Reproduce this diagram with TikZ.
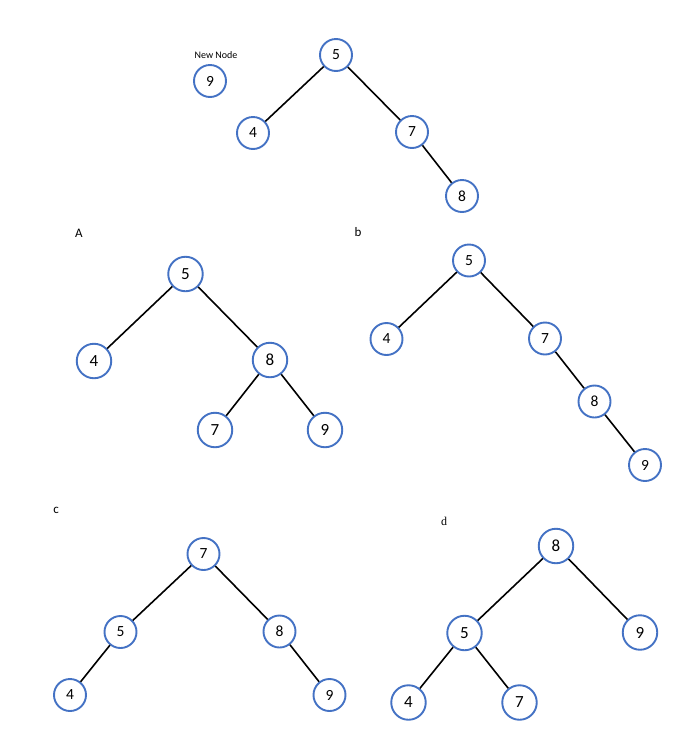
\documentclass[tikz,border=0pt]{standalone}
\usepackage{fontspec}
\setmainfont{Carlito}
\newfontfamily\serifd{Liberation Serif}
\definecolor{nodeblue}{HTML}{4472C4}
\tikzset{
  tn/.style={circle, draw=nodeblue, line width=1.9pt, fill=white, minimum size=32pt, inner sep=0pt, font=\fontsize{15.5}{15.5}\selectfont},
  tnb/.style={tn, minimum size=34.5pt, font=\fontsize{17}{17}\selectfont},
  edge/.style={line width=1.6pt, black},
  lab/.style={font=\fontsize{13}{13}\selectfont, inner sep=0pt}
}
\begin{document}
\begin{tikzpicture}[x=1pt,y=-1pt]
\useasboundingbox (0,0) rectangle (680,745);
% top
\node[inner sep=0pt, font=\fontsize{10}{10}\selectfont] (newlab) at (216,55) {New Node};
\node[tn] (n9) at (210,81) {9};
\node[tn] (t5) at (336,55) {5};
\node[tn] (t4) at (253,133) {4};
\node[tn] (t7) at (412,132) {7};
\node[tn] (t8) at (462,196) {8};
\draw[edge] (t5) -- (t4);
\draw[edge] (t5) -- (t7);
\draw[edge] (t7) -- (t8);
% A
\node[lab] (labA) at (79,233) {A};
\node[tnb] (a5) at (185.5,274) {5};
\node[tnb] (a4) at (94,361) {4};
\node[tnb] (a8) at (270,360) {8};
\node[tnb] (a7) at (215,430) {7};
\node[tnb] (a9) at (325,430) {9};
\draw[edge] (a5) -- (a4);
\draw[edge] (a5) -- (a8);
\draw[edge] (a8) -- (a7);
\draw[edge] (a8) -- (a9);
% b
\node[lab] (labb) at (358,232) {b};
\node[tn] (b5) at (469,260.5) {5};
\node[tn] (b4) at (386.5,339) {4};
\node[tn] (b7) at (545,338.5) {7};
\node[tn] (b8) at (594.5,401.5) {8};
\node[tn] (b9) at (645,465) {9};
\draw[edge] (b5) -- (b4);
\draw[edge] (b5) -- (b7);
\draw[edge] (b7) -- (b8);
\draw[edge] (b8) -- (b9);
% c
\node[lab] (labc) at (56,510) {c};
\node[tn] (c7) at (203.5,554) {7};
\node[tn] (c5) at (120.5,632) {5};
\node[tn] (c8) at (279.5,631.5) {8};
\node[tn] (c4) at (70,695) {4};
\node[tn] (c9) at (329.5,695) {9};
\draw[edge] (c7) -- (c5);
\draw[edge] (c7) -- (c8);
\draw[edge] (c5) -- (c4);
\draw[edge] (c8) -- (c9);
% d
\node[inner sep=0pt, font=\serifd\fontsize{12}{12}\selectfont] (labd) at (444,521) {d};
\node[tnb] (d8) at (556,546) {8};
\node[tnb] (d5) at (464.5,633) {5};
\node[tnb] (d9) at (640,632.5) {9};
\node[tnb] (d4) at (408.5,702.5) {4};
\node[tnb] (d7) at (519.5,702.5) {7};
\draw[edge] (d8) -- (d5);
\draw[edge] (d8) -- (d9);
\draw[edge] (d5) -- (d4);
\draw[edge] (d5) -- (d7);
\end{tikzpicture}
\end{document}
